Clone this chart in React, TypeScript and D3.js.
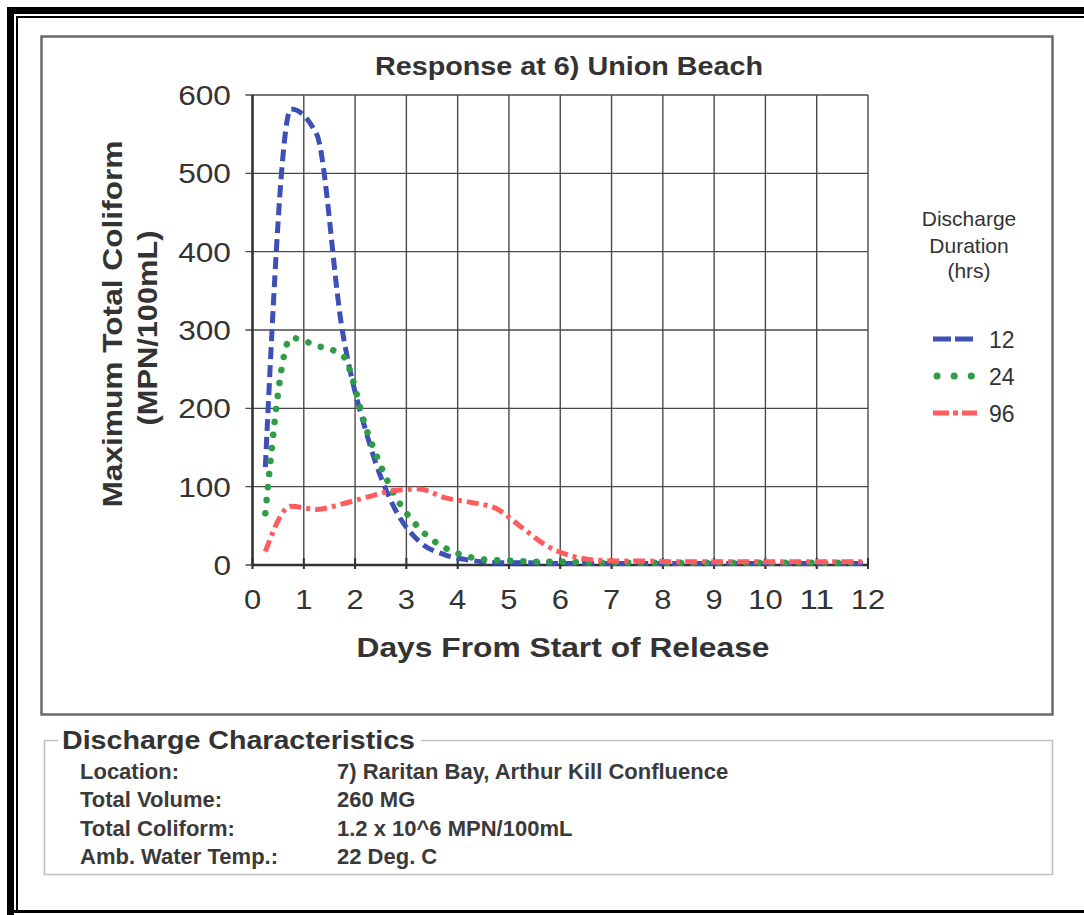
import React from "react";
import * as d3 from "d3";

// days after start of release (sample times)
const days = [0.25, 0.75, 1.25, 1.75, 2.25, 2.75, 3.25, 3.75, 4.25, 4.75, 5.25, 5.75,
  6.25, 6.75, 7.25, 7.75, 8.25, 8.75, 9.25, 9.75, 10.25, 10.75, 11.25, 11.9];

// maximum total coliform (MPN/100mL) per discharge duration
const dur12 = [125, 582, 550, 300, 162, 75, 30, 13, 6, 3, 3, 2, 2, 2, 2, 2, 2, 2, 2, 2, 2, 2, 2, 2];
const dur24 = [66, 290, 280, 268, 168, 92, 47, 22, 10, 6, 5, 4, 4, 3, 3, 3, 3, 3, 3, 3, 3, 3, 3, 3];
const dur96 = [17, 75, 71, 78, 87, 95, 97, 86, 80, 72, 48, 24, 11, 6, 5, 5, 4, 4, 4, 4, 4, 4, 4, 4];

const xTicks = [0, 1, 2, 3, 4, 5, 6, 7, 8, 9, 10, 11, 12];
const yTicks = [0, 100, 200, 300, 400, 500, 600];

const legendTitle = ["Discharge", "Duration", "(hrs)"];
const durations = ["12", "24", "96"];

const infoLabels = ["Location:", "Total Volume:", "Total Coliform:", "Amb. Water Temp.:"];
const infoValues = ["7) Raritan Bay, Arthur Kill Confluence", "260 MG", "1.2 x 10^6 MPN/100mL", "22 Deg. C"];

const FONT = "'Liberation Sans', Arial, sans-serif";
const TXT = "#333";

const styles = [
  { color: "#3e4fb6", dash: "12,6", legendDash: "18,4", width: 5, cap: "butt" },
  { color: "#2f9d48", dash: "0.1,13", legendDash: "0.1,17", width: 6.5, cap: "round" },
  { color: "#ff5c60", dash: "12,5,4,5", legendDash: "16,4,5,4", width: 5, cap: "butt" },
];

export default function App() {
  const x = d3.scaleLinear().domain([0, 12]).range([252.5, 868]);
  const y = d3.scaleLinear().domain([0, 600]).range([565, 95]);

  const series = [dur12, dur24, dur96].map((vals, i) => ({
    name: durations[i],
    points: days.map((d, j) => [d, vals[j]] as [number, number]),
    ...styles[i],
  }));

  const line = d3.line<[number, number]>()
    .x(d => x(d[0]))
    .y(d => y(d[1]))
    .curve(d3.curveMonotoneX);

  const legendY = [339, 376, 413];
  const infoY = [779, 807, 836, 864];

  return (
    <svg width={1084} height={915} style={{ position: "absolute", left: 0, top: 0, background: "#fff" }}
      fontFamily={FONT}>
      {/* outer frame */}
      <rect x={7} y={7} width={1077} height={7} fill="#000" />
      <rect x={7} y={7} width={7} height={908} fill="#000" />
      <line x1={16} x2={1084} y1={17} y2={17} stroke="#000" strokeWidth={2} />
      <line x1={17} x2={17} y1={16} y2={911} stroke="#000" strokeWidth={2} />
      <rect x={7} y={910} width={1077} height={3} fill="#000" />

      {/* chart box */}
      <rect x={41.5} y={36.5} width={1011} height={678} fill="none" stroke="#6a6a6a" strokeWidth={2.5} />

      <text x={569} y={75} textAnchor="middle" fontSize={26} fontWeight="bold" fill={TXT}
        textLength={388} lengthAdjust="spacingAndGlyphs">Response at 6) Union Beach</text>

      {/* grid */}
      {yTicks.map(t => (
        <line key={"gy" + t} x1={x(0) - 7} x2={x(12)} y1={y(t)} y2={y(t)} stroke="#4a4a4a" strokeWidth={1.4} />
      ))}
      {xTicks.map(t => (
        <line key={"gx" + t} x1={x(t)} x2={x(t)} y1={y(600)} y2={y(0) + 4} stroke="#4a4a4a" strokeWidth={1.4} />
      ))}
      {xTicks.map(t => (
        <line key={"tx" + t} x1={x(t)} x2={x(t)} y1={y(0) - 7} y2={y(0) + 4} stroke="#333" strokeWidth={2} />
      ))}
      <line x1={x(0)} x2={x(0)} y1={y(600)} y2={y(0)} stroke="#333" strokeWidth={2.5} />
      <line x1={x(0)} x2={x(12)} y1={y(0)} y2={y(0)} stroke="#333" strokeWidth={2.5} />

      {/* tick labels */}
      {yTicks.map(t => (
        <text key={"ly" + t} x={231} y={y(t) + 10} textAnchor="end" fontSize={27} fill={TXT}
          textLength={String(t).length * 17.6} lengthAdjust="spacingAndGlyphs">{t}</text>
      ))}
      {xTicks.map(t => (
        <text key={"lx" + t} x={x(t)} y={609} textAnchor="middle" fontSize={27} fill={TXT}
          textLength={String(t).length * 17.2} lengthAdjust="spacingAndGlyphs">{t}</text>
      ))}

      {/* axis titles */}
      <text x={563} y={657} textAnchor="middle" fontSize={27} fontWeight="bold" fill={TXT}
        textLength={413} lengthAdjust="spacingAndGlyphs">Days From Start of Release</text>
      <text transform="translate(122,324) rotate(-90)" textAnchor="middle" fontSize={27} fontWeight="bold" fill={TXT}
        textLength={367} lengthAdjust="spacingAndGlyphs">Maximum Total Coliform</text>
      <text transform="translate(157,328) rotate(-90)" textAnchor="middle" fontSize={27} fontWeight="bold" fill={TXT}
        textLength={195} lengthAdjust="spacingAndGlyphs">(MPN/100mL)</text>

      {/* series */}
      {series.map(s => (
        <path key={s.name} d={line(s.points) || ""} fill="none" stroke={s.color} strokeWidth={s.width}
          strokeDasharray={s.dash} strokeLinecap={s.cap as any} strokeLinejoin="round" />
      ))}

      {/* legend */}
      {legendTitle.map((t, i) => (
        <text key={t} x={969} y={[226, 253, 278][i]} textAnchor="middle" fontSize={21} fill={TXT}>{t}</text>
      ))}
      {series.map((s, i) => (
        <g key={"lg" + s.name}>
          <line x1={i === 1 ? 937 : 933} x2={i === 2 ? 977 : i === 1 ? 972 : 973} y1={legendY[i]} y2={legendY[i]}
            stroke={s.color} strokeWidth={s.width + (i === 1 ? 0.5 : 0)} strokeDasharray={s.legendDash}
            strokeLinecap={s.cap as any} />
          <text x={989} y={legendY[i] + 9} fontSize={23} fill={TXT}>{s.name}</text>
        </g>
      ))}

      {/* discharge characteristics box */}
      <path d="M58,740.5 H44.5 V874.5 H1052.5 V740.5 H421" fill="none" stroke="#bcc0cb" strokeWidth={1.6} />
      <text x={62} y={749} fontSize={25} fontWeight="bold" fill={TXT}
        textLength={353} lengthAdjust="spacingAndGlyphs">Discharge Characteristics</text>
      {infoLabels.map((t, i) => (
        <g key={t}>
          <text x={80} y={infoY[i]} fontSize={22} fontWeight="bold" fill="#3a3a3a">{t}</text>
          <text x={337} y={infoY[i]} fontSize={22} fontWeight="bold" fill="#3a3a3a">{infoValues[i]}</text>
        </g>
      ))}
    </svg>
  );
}
